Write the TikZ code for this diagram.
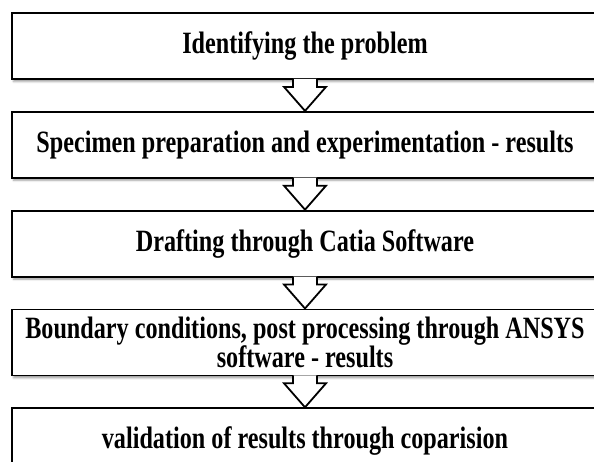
\documentclass[tikz,border=0pt]{standalone}
\usepackage{fontspec}
\setmainfont{Liberation Serif}[FakeStretch=0.78]
\usetikzlibrary{positioning,calc,shadows.blur}

% block arrow from the bottom of one stage to the top of the next
\newcommand{\flowstep}[2]{%
  \draw[flow] ($(#1.south)+(-12,-1)$) -- ++(0,8) -- ++(-9,0) -- (#2.north)
    -- ($(#1.south)+(21,7)$) -- ++(-9,0) -- ++(0,-8);}

\begin{document}
\begin{tikzpicture}[
          x=1pt, y=-1pt,
          stage/.style={draw, line width=1.8pt, fill=white, minimum width=586pt,
            minimum height=66pt, align=center,
            font=\fontsize{31}{29}\selectfont\bfseries,
            blur shadow={shadow xshift=1.5pt, shadow yshift=-2.5pt, shadow blur radius=2pt}},
          flow/.style={draw, line width=1.8pt, fill=white, line join=miter},
          node distance=31pt,
          ]

          \useasboundingbox (0,0) rectangle (594,461);

          \node[stage] (problem) at (305,46) {Identifying the problem};
          \node[stage, below=of problem] (specimen) {Specimen preparation and experimentation - results};
          \node[stage, below=of specimen] (drafting) {Drafting through Catia Software};
          \node[stage, below=of drafting] (ansys) {Boundary conditions, post processing through ANSYS\\software - results};
          \node[stage, below=of ansys] (validation) {validation of results through coparision};

          \flowstep{problem}{specimen}
          \flowstep{specimen}{drafting}
          \flowstep{drafting}{ansys}
          \flowstep{ansys}{validation}

        \end{tikzpicture}
\end{document}
